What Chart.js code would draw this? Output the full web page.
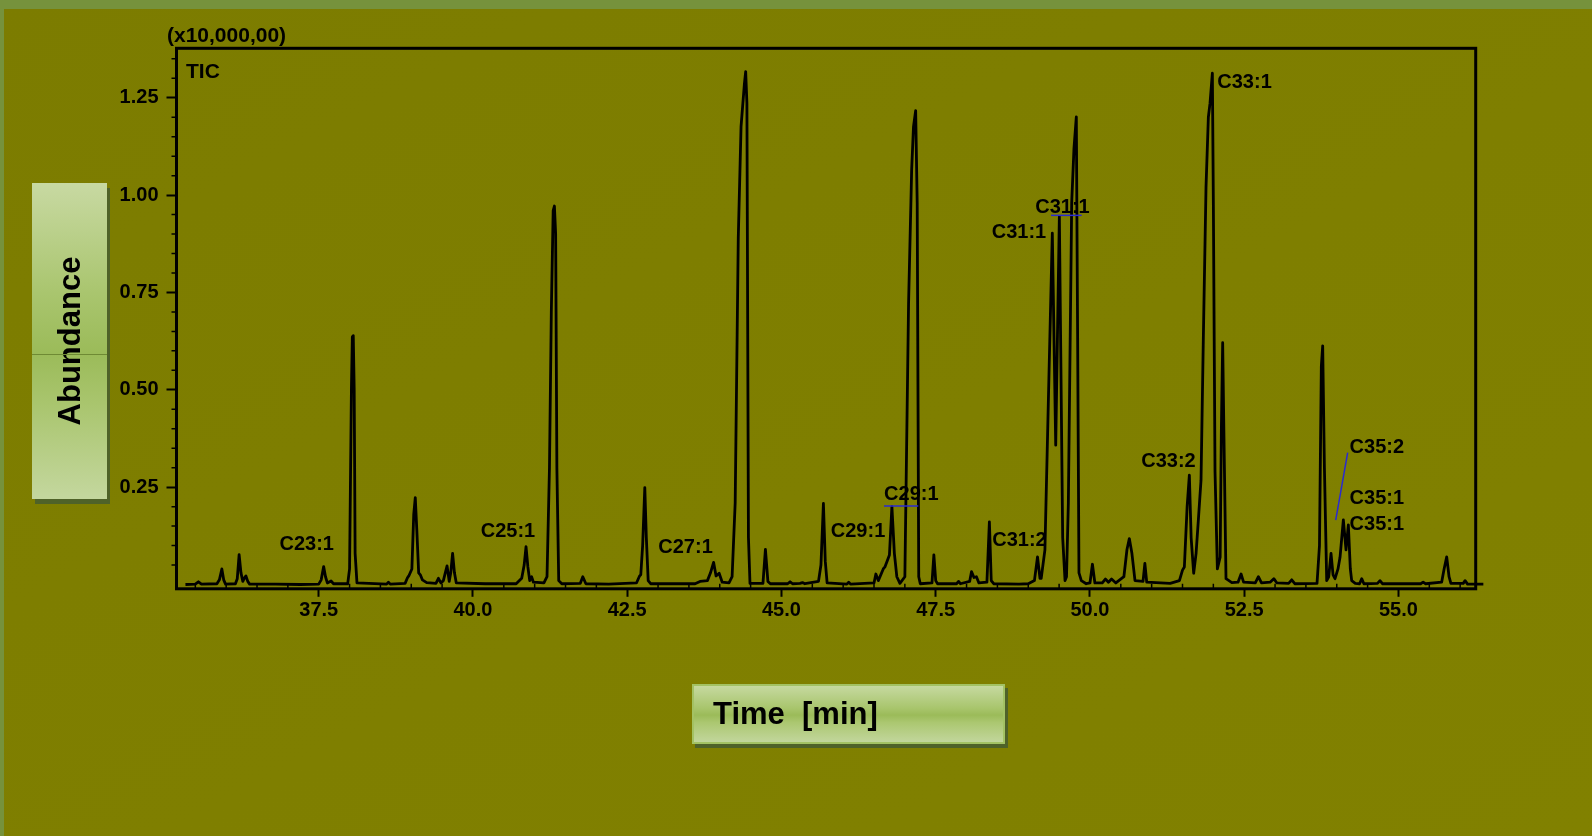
<!DOCTYPE html>
<html>
<head>
<meta charset="utf-8">
<title>TIC chromatogram</title>
<script src="https://cdn.jsdelivr.net/npm/chart.js@4.4.0/dist/chart.umd.min.js"></script>
<style>
  html, body { margin: 0; padding: 0; }
  body {
    width: 1592px; height: 836px; overflow: hidden; position: relative;
    background: linear-gradient(152deg, #7c7c00 0%, #7f7f00 55%, #818100 100%);
    font-family: "Liberation Sans", Arial, sans-serif;
  }
  #topStrip { position: absolute; left: 0; top: 0; width: 1592px; height: 9px; background: #76923c; }
  #leftStrip { position: absolute; left: 0; top: 0; width: 4px; height: 836px; background: #76923c; }
  #chart { position: absolute; left: 0; top: 0; }
  .note { position: absolute; font-weight: bold; font-size: 21px; line-height: 21px; color: #000; white-space: nowrap; }
  #yBox {
    position: absolute; left: 32px; top: 183px; width: 75px; height: 316px;
    background: linear-gradient(to bottom, #c8d9a2 0%, #a9c56e 35%, #9bbb59 54%, #a9c56e 70%, #c4d79e 100%);
    box-shadow: 3px 5px 0 #4f6228;
  }
  #yBox::after {
    content: ""; position: absolute; left: 0; right: 0; top: 171px; height: 1px; background: #6f8a34;
  }
  #yBox span {
    position: absolute; left: 50%; top: 50%; transform: translate(-50%, -50%) rotate(-90deg);
    font-weight: bold; font-size: 31px; white-space: nowrap; color: #000;
  }
  #xBox {
    position: absolute; left: 692px; top: 684px; width: 313px; height: 60px; box-sizing: border-box;
    border: 2px solid #a3c263;
    background: linear-gradient(to bottom, #c6d9a0 0%, #a8c56c 40%, #9bbb59 52%, #abc770 65%, #c2d69c 100%);
    box-shadow: 3px 4px 0 #4f6228;
    font-weight: bold; font-size: 31px; line-height: 56px; padding-left: 19px; color: #000; white-space: pre;
  }
</style>
</head>
<body>
<div id="topStrip"></div>
<div id="leftStrip"></div>
<canvas id="chart" width="1592" height="836"></canvas>
<div class="note" style="left:167px; top:24px;">(x10,000,00)</div>
<div class="note" style="left:186px; top:60px;">TIC</div>
<div id="yBox"><span>Abundance</span></div>
<div id="xBox">Time  [min]</div>
<script>
// ---- data ----
const timeMin = [
  35.34, 35.50, 35.55, 35.60, 35.85, 35.89, 35.93, 35.96, 35.99, 36.15, 36.18, 36.21, 36.24, 36.27, 36.30, 36.32, 36.35, 36.38,
  36.80, 37.20, 37.50, 37.54, 37.58, 37.61, 37.64, 37.70, 37.74, 37.97, 38.00, 38.03, 38.045, 38.06, 38.075, 38.09, 38.12,
  38.60, 38.63, 38.66, 38.90, 38.94, 38.96, 39.01, 39.04, 39.065, 39.09, 39.12, 39.15, 39.18, 39.25, 39.40, 39.44, 39.48,
  39.52, 39.58, 39.615, 39.64, 39.67, 39.70, 39.73, 40.20, 40.70, 40.79, 40.83, 40.86, 40.89, 40.92, 40.95, 40.98,
  41.15, 41.20, 41.24, 41.27, 41.30, 41.32, 41.34, 41.36, 41.39, 41.44, 41.74, 41.78, 41.83, 42.20, 42.65, 42.70, 42.72,
  42.75, 42.785, 42.81, 42.84, 42.88, 43.60, 43.68, 43.80, 43.85, 43.90, 43.94, 43.99, 44.04, 44.15, 44.20, 44.25,
  44.30, 44.345, 44.40, 44.42, 44.44, 44.465, 44.49, 44.70, 44.74, 44.78, 44.82, 45.10, 45.14, 45.18, 45.30, 45.34, 45.38,
  45.60, 45.64, 45.68, 45.71, 45.74, 46.06, 46.09, 46.12, 46.50, 46.53, 46.57, 46.65, 46.68, 46.75, 46.79, 46.83, 46.87,
  46.92, 47.00, 47.06, 47.11, 47.14, 47.175, 47.20, 47.225, 47.25, 47.44, 47.47, 47.50, 47.53, 47.84, 47.87, 47.90,
  48.05, 48.08, 48.12, 48.16, 48.20, 48.33, 48.37, 48.40, 48.44, 48.85, 49.00, 49.10, 49.15, 49.19, 49.21, 49.27,
  49.325, 49.39, 49.445, 49.504, 49.558, 49.596, 49.62, 49.65, 49.704, 49.741, 49.779, 49.80, 49.822, 49.86, 49.94,
  50.00, 50.04, 50.08, 50.20, 50.25, 50.30, 50.35, 50.42, 50.55, 50.60, 50.638, 50.68, 50.73, 50.86, 50.89, 50.92,
  51.30, 51.45, 51.50, 51.53, 51.575, 51.611, 51.64, 51.681, 51.72, 51.757, 51.80, 51.838, 51.881, 51.919, 51.946,
  51.984, 52.00, 52.027, 52.065, 52.11, 52.13, 52.151, 52.17, 52.205, 52.30, 52.40, 52.449, 52.49, 52.68, 52.73, 52.78,
  52.92, 52.98, 53.03, 53.22, 53.27, 53.32, 53.68, 53.72, 53.75, 53.772, 53.80, 53.837, 53.87, 53.907, 53.94, 53.972,
  54.02, 54.053, 54.107, 54.15, 54.188, 54.22, 54.242, 54.30, 54.37, 54.404, 54.44, 54.66, 54.70, 54.74, 55.36, 55.40,
  55.44, 55.70, 55.74, 55.782, 55.82, 55.85, 56.05, 56.08, 56.12, 56.376
];
const abundance = [
  0.000, 0.001, 0.007, 0.001, 0.002, 0.012, 0.040, 0.012, 0.001, 0.002, 0.015, 0.077, 0.030, 0.008, 0.018, 0.022, 0.008, 0.001,
  0.001, 0.000, 0.001, 0.012, 0.046, 0.020, 0.004, 0.009, 0.002, 0.002, 0.040, 0.500, 0.636, 0.639, 0.500, 0.080, 0.004,
  0.001, 0.006, 0.001, 0.003, 0.018, 0.022, 0.040, 0.180, 0.223, 0.140, 0.030, 0.024, 0.012, 0.005, 0.003, 0.016, 0.004,
  0.010, 0.048, 0.008, 0.030, 0.080, 0.030, 0.004, 0.002, 0.002, 0.016, 0.050, 0.097, 0.045, 0.010, 0.020, 0.006,
  0.004, 0.020, 0.300, 0.700, 0.960, 0.972, 0.900, 0.300, 0.010, 0.002, 0.003, 0.020, 0.002, 0.001, 0.004, 0.022, 0.025,
  0.100, 0.249, 0.120, 0.010, 0.002, 0.002, 0.008, 0.010, 0.030, 0.057, 0.022, 0.029, 0.006, 0.004, 0.020, 0.210,
  0.890, 1.176, 1.287, 1.317, 1.236, 0.120, 0.003, 0.003, 0.090, 0.008, 0.002, 0.002, 0.007, 0.002, 0.003, 0.005, 0.002,
  0.008, 0.050, 0.208, 0.060, 0.004, 0.001, 0.006, 0.001, 0.004, 0.027, 0.010, 0.040, 0.046, 0.076, 0.200, 0.080, 0.020,
  0.003, 0.020, 0.720, 1.064, 1.176, 1.217, 0.980, 0.020, 0.002, 0.004, 0.076, 0.010, 0.002, 0.002, 0.008, 0.002,
  0.008, 0.033, 0.018, 0.020, 0.004, 0.006, 0.161, 0.010, 0.002, 0.001, 0.002, 0.010, 0.071, 0.016, 0.016, 0.089,
  0.465, 0.902, 0.358, 0.945, 0.120, 0.010, 0.020, 0.210, 0.980, 1.120, 1.201, 0.640, 0.030, 0.010, 0.002,
  0.004, 0.052, 0.004, 0.004, 0.014, 0.006, 0.014, 0.004, 0.020, 0.090, 0.118, 0.080, 0.010, 0.008, 0.054, 0.006,
  0.003, 0.010, 0.037, 0.045, 0.200, 0.281, 0.120, 0.029, 0.080, 0.166, 0.268, 0.636, 1.020, 1.200, 1.236,
  1.313, 0.980, 0.290, 0.040, 0.070, 0.400, 0.621, 0.400, 0.015, 0.005, 0.006, 0.027, 0.006, 0.004, 0.020, 0.004,
  0.006, 0.015, 0.004, 0.003, 0.012, 0.002, 0.003, 0.100, 0.560, 0.613, 0.300, 0.010, 0.020, 0.080, 0.025, 0.015,
  0.040, 0.070, 0.166, 0.089, 0.153, 0.040, 0.010, 0.003, 0.002, 0.015, 0.002, 0.003, 0.010, 0.002, 0.002, 0.006,
  0.002, 0.006, 0.040, 0.071, 0.020, 0.003, 0.003, 0.010, 0.001, 0.001
];

// axis ticks
const xTickValues = [37.5, 40.0, 42.5, 45.0, 47.5, 50.0, 52.5, 55.0];
const yTickValues = [0.25, 0.50, 0.75, 1.00, 1.25];

// peak annotations (label centre in minutes / abundance)
const peakNames = ['C23:1', 'C25:1', 'C27:1', 'C29:1', 'C29:1', 'C31:1', 'C31:1', 'C31:2', 'C33:2', 'C33:1', 'C35:2', 'C35:1', 'C35:1'];
const peakNameTime = [37.306, 40.568, 43.445, 46.241, 47.105, 48.850, 49.555, 48.858, 51.273, 52.505, 54.649, 54.649, 54.649];
const peakNameAbund = [0.102, 0.135, 0.095, 0.137, 0.231, 0.903, 0.969, 0.112, 0.315, 1.290, 0.353, 0.220, 0.153];

// blue leader lines (two underlines and one pointer)
const leaderFromTime = [46.662, 49.369, 54.177];
const leaderFromAbund = [0.2016, 0.948, 0.3385];
const leaderToTime = [47.218, 49.866, 53.983];
const leaderToAbund = [0.2016, 0.948, 0.1656];

Chart.defaults.font.family = '"Liberation Sans", Arial, sans-serif';

const tickFont = { size: 20, weight: 'bold' };

// frame round the plot and the minor ticks
const framePlugin = {
  id: 'frame',
  beforeDatasetsDraw(chart) {
    const { ctx, chartArea: a, scales: { x, y } } = chart;
    ctx.save();
    ctx.strokeStyle = '#000';
    ctx.lineWidth = 3;
    ctx.strokeRect(a.left, a.top, a.right - a.left, a.bottom - a.top);

    ctx.lineWidth = 1.5;
    ctx.beginPath();
    // minor x ticks every 0.5 min, pointing into the plot
    for (let t = 35.5; t <= 56.0; t += 0.5) {
      if (xTickValues.some(v => Math.abs(v - t) < 1e-6)) continue;
      const px = x.getPixelForValue(t);
      ctx.moveTo(px, a.bottom);
      ctx.lineTo(px, a.bottom - 5);
    }
    // minor y ticks every 0.05, pointing outwards
    for (let k = 1; k <= 27; k++) {
      const v = k * 0.05;
      if (yTickValues.some(w => Math.abs(w - v) < 1e-6)) continue;
      const py = y.getPixelForValue(v);
      ctx.moveTo(a.left, py);
      ctx.lineTo(a.left - 5, py);
    }
    ctx.stroke();
    ctx.restore();
  }
};

const peakLabelPlugin = {
  id: 'peakLabels',
  afterDatasetsDraw(chart) {
    const { ctx, scales: { x, y } } = chart;
    ctx.save();
    ctx.strokeStyle = '#2a2ad0';
    ctx.lineWidth = 1.5;
    leaderFromTime.forEach((t, i) => {
      ctx.beginPath();
      ctx.moveTo(x.getPixelForValue(t), y.getPixelForValue(leaderFromAbund[i]));
      ctx.lineTo(x.getPixelForValue(leaderToTime[i]), y.getPixelForValue(leaderToAbund[i]));
      ctx.stroke();
    });
    ctx.fillStyle = '#000';
    ctx.font = 'bold 20px "Liberation Sans", Arial, sans-serif';
    ctx.textAlign = 'center';
    ctx.textBaseline = 'middle';
    peakNames.forEach((name, i) => {
      ctx.fillText(name, x.getPixelForValue(peakNameTime[i]), y.getPixelForValue(peakNameAbund[i]));
    });
    ctx.restore();
  }
};

new Chart(document.getElementById('chart'), {
  type: 'line',
  data: {
    datasets: [{
      data: timeMin.map((t, i) => ({ x: t, y: abundance[i] })),
      borderColor: '#000',
      borderWidth: 2.8,
      borderJoinStyle: 'round',
      pointRadius: 0,
      tension: 0,
      fill: false,
      clip: false
    }]
  },
  options: {
    responsive: false,
    animation: false,
    events: [],
    layout: { padding: { top: 48.3, right: 116.3, left: 0, bottom: 0 } },
    plugins: { legend: { display: false }, tooltip: { enabled: false } },
    scales: {
      x: {
        type: 'linear',
        min: 35.195,
        max: 56.252,
        afterBuildTicks: s => { s.ticks = xTickValues.map(v => ({ value: v })); },
        afterFit: s => { s.height = 247.2; },
        border: { display: false },
        grid: { display: true, drawOnChartArea: false, drawTicks: true, tickLength: 8, tickWidth: 2, color: '#000' },
        ticks: { color: '#000', font: tickFont, padding: 2, maxRotation: 0, autoSkip: false, callback: v => v.toFixed(1) }
      },
      y: {
        min: -0.011,
        max: 1.377,
        afterBuildTicks: s => { s.ticks = yTickValues.map(v => ({ value: v })); },
        afterFit: s => { s.width = 176.5; },
        border: { display: false },
        grid: { display: true, drawOnChartArea: false, drawTicks: true, tickLength: 10, tickWidth: 2, color: '#000' },
        ticks: { color: '#000', font: tickFont, padding: 8, callback: v => v.toFixed(2) }
      }
    }
  },
  plugins: [framePlugin, peakLabelPlugin]
});
</script>
</body>
</html>
